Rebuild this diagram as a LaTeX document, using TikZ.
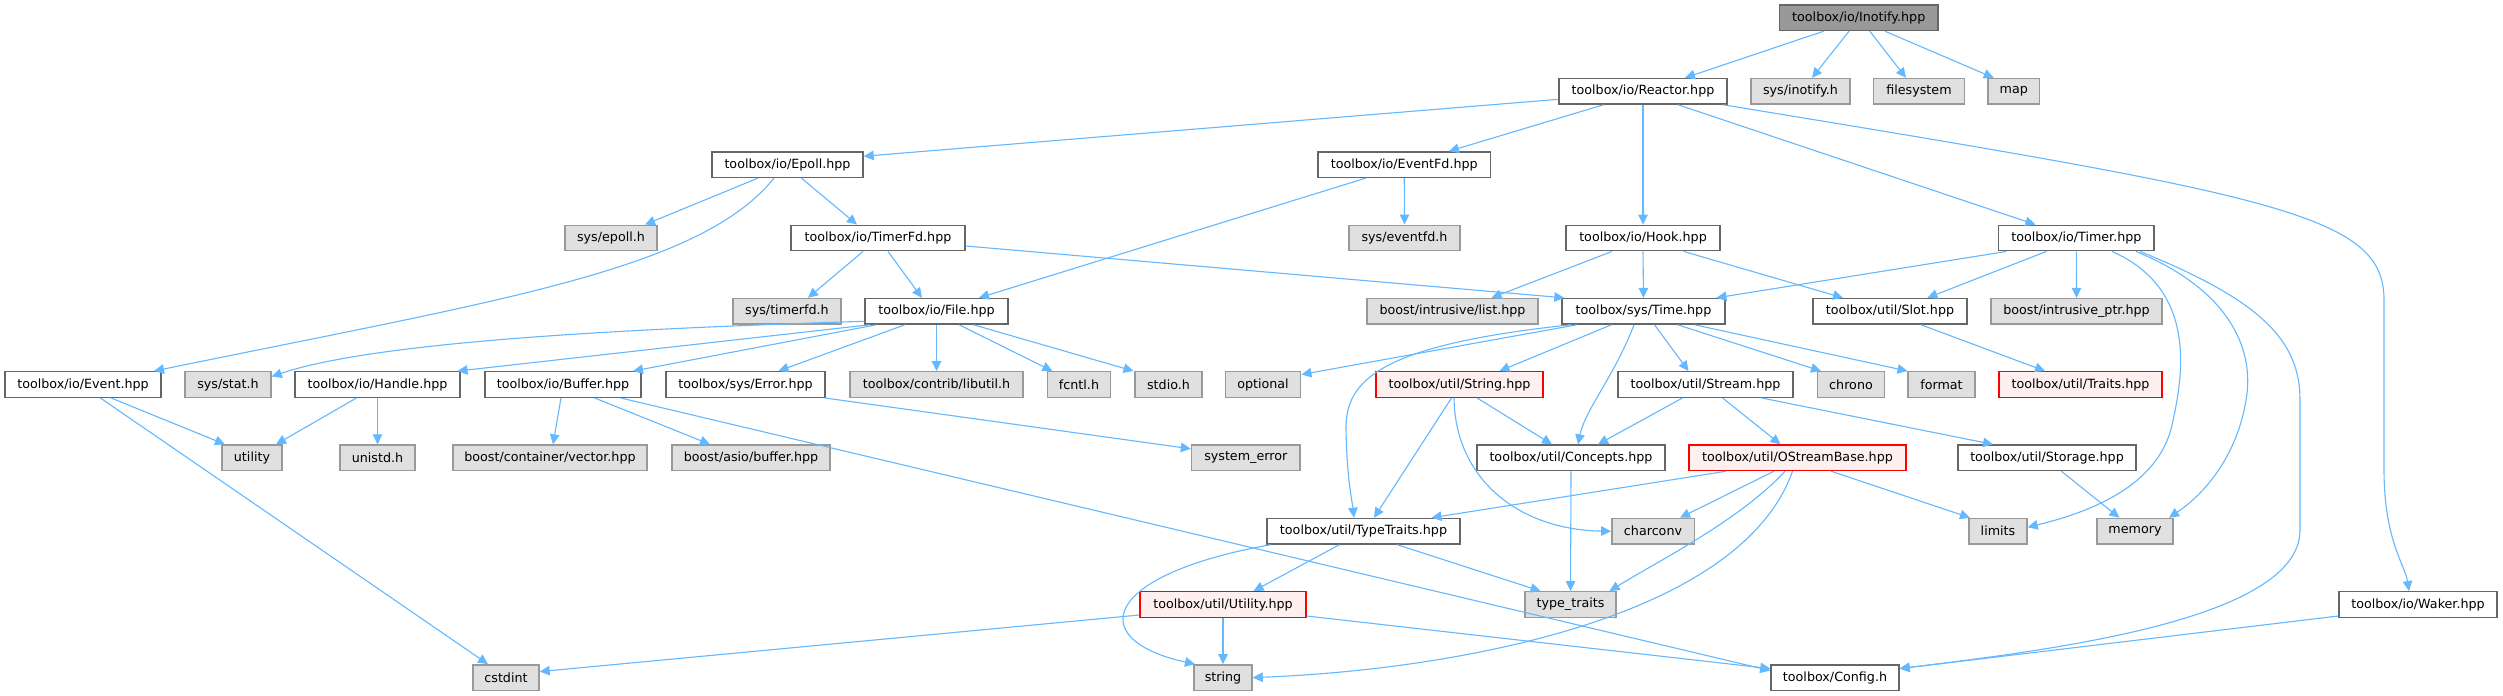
\documentclass[tikz,border=0pt]{standalone}
\usepackage{fontspec}
\setmainfont{DejaVu Sans}
\usetikzlibrary{arrows.meta}
\definecolor{edgec}{HTML}{63B8FF}
\definecolor{bordN}{HTML}{666666}
\definecolor{bordE}{HTML}{999999}
\definecolor{fillE}{HTML}{E0E0E0}
\definecolor{fillT}{HTML}{FFF0F0}
\definecolor{fillR}{HTML}{999999}
\newcommand\N[6]{\node[#5, minimum width=#4pt] (#1) at (#2,#3) {#6};}
\newcommand\E[4]{\draw[edge] ([xshift=#2pt]#1.south) -- ([xshift=#4pt]#3.north);}
\tikzset{
  box/.style={draw=bordN, fill=white, line width=1.4pt, minimum height=25.5pt,
    inner xsep=2pt, inner ysep=0pt, font=\fontsize{12.7}{15}\selectfont, text=black},
  extbox/.style={box, draw=bordE, fill=fillE},
  truncbox/.style={box, draw=red, fill=fillT},
  rootbox/.style={box, draw=bordN, fill=fillR},
  edge/.style={draw=edgec, line width=1.1pt, -{Triangle[length=10pt,width=9.5pt]}}
}
\begin{document}
\begin{tikzpicture}[x=1pt,y=-1pt]
\fill[white] (0,0) rectangle (2503,696);
\path[use as bounding box] (0,0) rectangle (2503,696);
% rows
\def\rA{17.7}\def\rB{91.3}\def\rC{164.7}\def\rD{238}\def\rE{311.3}
\def\rF{384.5}\def\rG{457.8}\def\rH{531.2}\def\rI{604.5}\def\rJ{677.6}
\N{inotify}{1858.75}{\rA}{158.5}{rootbox}{toolbox/io/Inotify.hpp}
\N{reactor}{1643}{\rB}{168}{box}{toolbox/io/Reactor.hpp}
\N{sysinotify}{1800.5}{\rB}{99}{extbox}{sys/inotify.h}
\N{filesystem}{1919}{\rB}{91}{extbox}{filesystem}
\N{map}{2013.75}{\rB}{51.5}{extbox}{map}
\N{epoll}{787.5}{\rC}{151}{box}{toolbox/io/Epoll.hpp}
\N{eventfd}{1404.25}{\rC}{172.5}{box}{toolbox/io/EventFd.hpp}
\N{sysepoll}{611}{\rD}{92}{extbox}{sys/epoll.h}
\N{timerfd}{878}{\rD}{174}{box}{toolbox/io/TimerFd.hpp}
\N{syseventfd}{1404.5}{\rD}{111}{extbox}{sys/eventfd.h}
\N{hook}{1643}{\rD}{154}{box}{toolbox/io/Hook.hpp}
\N{timer}{2076.35}{\rD}{155.3}{box}{toolbox/io/Timer.hpp}
\N{systimerfd}{787}{\rE}{108}{extbox}{sys/timerfd.h}
\N{file}{936.5}{\rE}{143}{box}{toolbox/io/File.hpp}
\N{boostlist}{1452.5}{\rE}{171}{extbox}{boost/intrusive/list.hpp}
\N{time}{1643.5}{\rE}{163}{box}{toolbox/sys/Time.hpp}
\N{slot}{1890}{\rE}{154}{box}{toolbox/util/Slot.hpp}
\N{intrusiveptr}{2076.5}{\rE}{171}{extbox}{boost/intrusive\_ptr.hpp}
\N{event}{83}{\rF}{156}{box}{toolbox/io/Event.hpp}
\N{sysstat}{228}{\rF}{86}{extbox}{sys/stat.h}
\N{handle}{377.5}{\rF}{165}{box}{toolbox/io/Handle.hpp}
\N{buffer}{563}{\rF}{156}{box}{toolbox/io/Buffer.hpp}
\N{error}{745.5}{\rF}{159}{box}{toolbox/sys/Error.hpp}
\N{libutil}{936.5}{\rF}{173}{extbox}{toolbox/contrib/libutil.h}
\N{fcntl}{1079}{\rF}{62.5}{extbox}{fcntl.h}
\N{stdio}{1168.5}{\rF}{67}{extbox}{stdio.h}
\N{optional}{1263}{\rF}{75.5}{extbox}{optional}
\N{stringhpp}{1459.5}{\rF}{167}{truncbox}{toolbox/util/String.hpp}
\N{stream}{1705.5}{\rF}{175}{box}{toolbox/util/Stream.hpp}
\N{chrono}{1851}{\rF}{66.5}{extbox}{chrono}
\N{format}{1941.5}{\rF}{67}{extbox}{format}
\N{traits}{2080.5}{\rF}{163}{truncbox}{toolbox/util/Traits.hpp}
\N{utility}{252}{\rG}{60}{extbox}{utility}
\N{unistd}{377.5}{\rG}{75}{extbox}{unistd.h}
\N{vector}{550}{\rG}{194}{extbox}{boost/container/vector.hpp}
\N{asio}{751}{\rG}{158}{extbox}{boost/asio/buffer.hpp}
\N{systemerror}{1245.75}{\rG}{108.5}{extbox}{system\_error}
\N{concepts}{1571}{\rG}{188}{box}{toolbox/util/Concepts.hpp}
\N{ostreambase}{1797.5}{\rG}{217}{truncbox}{toolbox/util/OStreamBase.hpp}
\N{storage}{2047}{\rG}{178}{box}{toolbox/util/Storage.hpp}
\N{typetraits}{1363.5}{\rH}{193}{box}{toolbox/util/TypeTraits.hpp}
\N{charconv}{1653}{\rH}{82.4}{extbox}{charconv}
\N{limits}{1998}{\rH}{58}{extbox}{limits}
\N{memory}{2135}{\rH}{76}{extbox}{memory}
\N{utilityhpp}{1223}{\rI}{166}{truncbox}{toolbox/util/Utility.hpp}
\N{typetraitsstd}{1570.5}{\rI}{91}{extbox}{type\_traits}
\N{waker}{2418}{\rI}{158}{box}{toolbox/io/Waker.hpp}
\N{cstdint}{506}{\rJ}{66}{extbox}{cstdint}
\N{string}{1223}{\rJ}{58}{extbox}{string}
\N{config}{1835}{\rJ}{128}{box}{toolbox/Config.h}
% straight edges
\E{inotify}{-35}{reactor}{42}
\E{inotify}{-9.7}{sysinotify}{11.5}
\E{inotify}{11}{filesystem}{-13}
\E{inotify}{26}{map}{-20}
\E{reactor}{35}{timer}{-41}
\E{reactor}{-39.4}{eventfd}{44.6}
\E{reactor}{0}{hook}{0}
\E{epoll}{14}{timerfd}{-21}
\E{epoll}{-29.5}{sysepoll}{34}
\E{eventfd}{0}{syseventfd}{0}
\E{eventfd}{-38.6}{file}{42.5}
\E{timerfd}{-15}{systimerfd}{21}
\E{timerfd}{10}{file}{-14.5}
\E{hook}{-31}{boostlist}{39}
\E{hook}{0}{time}{0}
\E{hook}{40.7}{slot}{-47}
\E{timer}{-70}{time}{72.9}
\E{timer}{-30}{slot}{37.4}
\E{timer}{0}{intrusiveptr}{0}
\E{slot}{31}{traits}{-35.5}
\E{storage}{14.4}{memory}{-15.6}
\E{ostreambase}{33.6}{limits}{-28}
\E{stream}{56}{storage}{-54}
\E{stream}{17}{ostreambase}{-17}
\E{stream}{-23}{concepts}{27}
\E{time}{34}{chrono}{-30}
\E{time}{51}{format}{-34}
\E{time}{11}{stream}{-17}
\E{time}{-32}{stringhpp}{40}
\E{stringhpp}{-8}{typetraits}{10.5}
\E{stringhpp}{17.5}{concepts}{-19}
\E{ostreambase}{-71.5}{typetraits}{68}
\E{ostreambase}{-23.5}{charconv}{27}
\E{concepts}{0}{typetraitsstd}{0}
\E{typetraits}{-24}{utilityhpp}{30.5}
\E{typetraits}{33.5}{typetraitsstd}{-30}
\E{utilityhpp}{0}{string}{0}
\E{buffer}{-2}{vector}{3}
\E{buffer}{31.6}{asio}{-41}
\E{handle}{-21}{utility}{24}
\E{handle}{0}{unistd}{0}
\E{event}{28}{utility}{-27}
\E{event}{17.3}{cstdint}{-18}
\E{file}{-31.5}{error}{33}
\E{file}{0}{libutil}{0}
\E{file}{22.5}{fcntl}{-26.6}
\E{file}{37}{stdio}{-35}
\E{file}{-66.5}{handle}{80}
\E{file}{-60}{buffer}{70}
% special edges
\draw[edge] ([yshift=-8pt]reactor.west) -- ([yshift=-5pt]epoll.north east);
\draw[edge] ([xshift=80pt]reactor.south) .. controls (2280,196) and (2384,215) .. (2384,300)
  -- (2384,470) .. controls (2384,540) and (2405,565) .. ([xshift=-9pt]waker.north);
\draw[edge] ([xshift=-13.5pt]epoll.south) .. controls (700,270) and (500,300) .. ([xshift=71pt]event.north);
\draw[edge] ([yshift=-8pt]timerfd.east) -- ([xshift=3pt]time.north west);
\draw[edge] ([xshift=35.6pt]timer.south) .. controls (2200,290) and (2182,380) .. (2172,425)
  .. controls (2162,470) and (2120,505) .. ([yshift=4pt]limits.east);
\draw[edge] ([xshift=59.6pt]timer.south) .. controls (2230,290) and (2255,350) .. (2246,400)
  .. controls (2238,450) and (2210,490) .. ([xshift=34pt]memory.north);
\draw[edge] ([xshift=63.6pt]timer.south) .. controls (2260,300) and (2300,340) .. (2300,400)
  -- (2300,530) .. controls (2300,620) and (2050,650) .. ([yshift=9pt]config.east);
\draw[edge] ([yshift=-11.5pt]waker.west) -- ([yshift=9pt]config.east);
\draw[edge] ([xshift=-66.5pt]time.south) -- ([yshift=10pt]optional.east);
\draw[edge] ([xshift=-9.5pt]time.south) .. controls (1615,375) and (1585,410) .. ([xshift=7pt]concepts.north);
\draw[edge] ([xshift=-72.5pt]time.south) .. controls (1380,345) and (1345,380) .. (1346,430)
  .. controls (1347,480) and (1352,500) .. ([xshift=-9.5pt]typetraits.north);
\draw[edge] ([xshift=-5.5pt]stringhpp.south) .. controls (1455,480) and (1520,530) .. (charconv.west);
\draw[edge] ([xshift=-12.5pt]ostreambase.south) .. controls (1740,520) and (1660,560) .. ([xshift=39pt]typetraitsstd.north);
\draw[edge] ([xshift=-5pt]ostreambase.south) .. controls (1740,620) and (1450,670) .. (string.east);
\draw[edge] ([xshift=-92.5pt]typetraits.south) .. controls (1100,575) and (1085,640) .. ([xshift=-28pt]string.north);
\draw[edge] ([yshift=-10.5pt]utilityhpp.west) -- ([yshift=6pt]cstdint.east);
\draw[edge] ([yshift=-11.5pt]utilityhpp.east) -- ([yshift=9pt]config.west);
\draw[edge] ([xshift=57.6pt]buffer.south) -- ([yshift=7pt]config.west);
\draw[edge] ([xshift=-1pt]error.south east) -- ([yshift=9pt]systemerror.west);
\draw[edge] ([yshift=-10pt]file.west) .. controls (650,328) and (380,340) .. ([yshift=8pt]sysstat.east);
\end{tikzpicture}
\end{document}
